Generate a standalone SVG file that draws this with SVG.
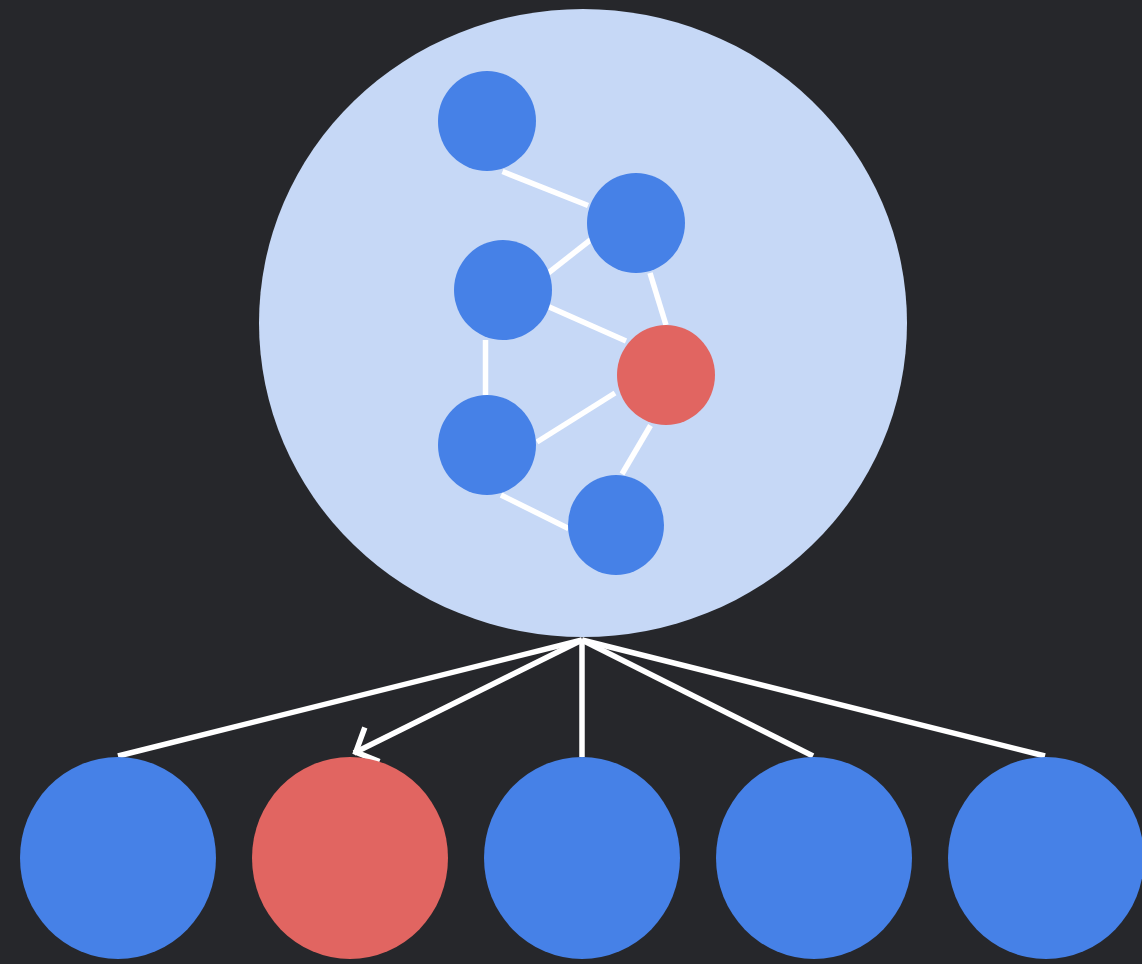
<svg xmlns="http://www.w3.org/2000/svg" width="1142" height="964" viewBox="0 0 1142 964">
  <defs>
    <style>
      .bg { fill: #26272b; }
      .outer { fill: #c6d8f6; }
      .blue { fill: #4681e7; }
      .red { fill: #e16561; }
      .edge { stroke: #ffffff; stroke-width: 5.5; fill: none; stroke-linecap: butt; }
      .link { stroke: #ffffff; stroke-width: 5.5; fill: none; stroke-linecap: butt; }
    </style>
    <marker id="arrow" viewBox="-30 -25 35 50" refX="0" refY="0" markerWidth="35" markerHeight="50" markerUnits="userSpaceOnUse" orient="auto" overflow="visible">
      <path d="M-19,-19 L-2,0 L-21,18" fill="none" stroke="#ffffff" stroke-width="5.5" stroke-linejoin="miter" stroke-linecap="butt"/>
    </marker>
  </defs>
  <rect class="bg" x="0" y="0" width="1142" height="964"/>

  <g id="cluster">
    <ellipse class="outer" cx="583" cy="323" rx="324" ry="314"/>
  </g>

  <g id="inner-edges">
    <line class="edge" x1="502.5" y1="171.5" x2="588" y2="205.5"/>
    <line class="edge" x1="591" y1="239.5" x2="547" y2="274"/>
    <line class="edge" x1="547" y1="306" x2="626" y2="341"/>
    <line class="edge" x1="650" y1="273" x2="666" y2="325"/>
    <line class="edge" x1="485.5" y1="340" x2="485.5" y2="395"/>
    <line class="edge" x1="615" y1="393" x2="537" y2="442"/>
    <line class="edge" x1="650.5" y1="425.5" x2="622" y2="474"/>
    <line class="edge" x1="501" y1="495" x2="568.5" y2="528.5"/>
  </g>

  <g id="n1"><ellipse class="blue" cx="487" cy="121" rx="49" ry="50"/></g>
  <g id="n2"><ellipse class="blue" cx="636" cy="223" rx="49" ry="50"/></g>
  <g id="n3"><ellipse class="blue" cx="503" cy="290" rx="49" ry="50"/></g>
  <g id="n4"><ellipse class="red" cx="666" cy="375" rx="49" ry="50"/></g>
  <g id="n5"><ellipse class="blue" cx="487" cy="445" rx="49" ry="50"/></g>
  <g id="n6"><ellipse class="blue" cx="616" cy="525" rx="48" ry="50"/></g>

  <g id="connectors">
    <line class="link" x1="582" y1="640" x2="118" y2="756"/>
    <line class="link" x1="582" y1="640" x2="354" y2="753" marker-end="url(#arrow)"/>
    <line class="link" x1="582" y1="640" x2="582" y2="757"/>
    <line class="link" x1="582" y1="640" x2="813" y2="756"/>
    <line class="link" x1="582" y1="640" x2="1045" y2="756"/>
  </g>

  <g id="b1"><ellipse class="blue" cx="118" cy="858" rx="98" ry="101"/></g>
  <g id="b2"><ellipse class="red" cx="350" cy="858" rx="98" ry="101"/></g>
  <g id="b3"><ellipse class="blue" cx="582" cy="858" rx="98" ry="101"/></g>
  <g id="b4"><ellipse class="blue" cx="814" cy="858" rx="98" ry="101"/></g>
  <g id="b5"><ellipse class="blue" cx="1046" cy="858" rx="98" ry="101"/></g>
</svg>
